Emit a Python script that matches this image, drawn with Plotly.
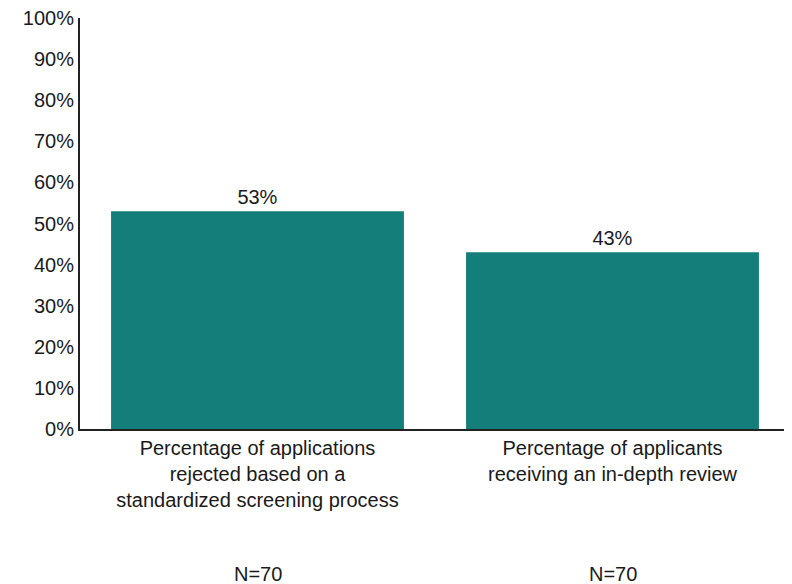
import plotly.graph_objects as go

categories = [
    "Percentage of applications<br>rejected based on a<br>standardized screening process",
    "Percentage of applicants<br>receiving an in-depth review",
]
values = [53, 43]
value_labels = ["53%", "43%"]
n_labels = ["N=70", "N=70"]
y_ticks = list(range(0, 101, 10))
y_tick_labels = [f"{t}%" for t in y_ticks]

FONT = "Liberation Sans, Arial, sans-serif"
TEXT = "#1a1a1a"
FS = 20

fig = go.Figure(
    go.Bar(
        x=categories,
        y=values,
        text=value_labels,
        textposition="outside",
        textfont=dict(family=FONT, size=FS, color=TEXT),
        marker=dict(color="#147e7a", line=dict(width=0)),
        cliponaxis=False,
    )
)

for cat, n in zip(categories, n_labels):
    fig.add_annotation(
        x=cat, xref="x", y=-0.385, yref="paper", text=n, showarrow=False,
        font=dict(family=FONT, size=FS, color=TEXT), yanchor="bottom",
    )

fig.update_layout(
    width=784, height=576,
    margin=dict(l=72, r=2, t=10, b=155, autoexpand=False),
    paper_bgcolor="white", plot_bgcolor="white",
    bargap=0.175,
    showlegend=False,
    font=dict(family=FONT, size=FS, color=TEXT),
)
fig.update_xaxes(
    showline=True, linecolor="#222222", linewidth=2,
    ticks="", tickfont=dict(family=FONT, size=FS, color=TEXT),
    showgrid=False, automargin=False,
)
fig.update_yaxes(
    range=[0, 100], tickvals=y_ticks, ticktext=y_tick_labels,
    showline=True, linecolor="#222222", linewidth=2,
    ticks="", showgrid=False, zeroline=False, automargin=False,
    ticklabeloverflow="allow",
    tickfont=dict(family=FONT, size=FS, color=TEXT),
)

fig.write_html("out.html")
